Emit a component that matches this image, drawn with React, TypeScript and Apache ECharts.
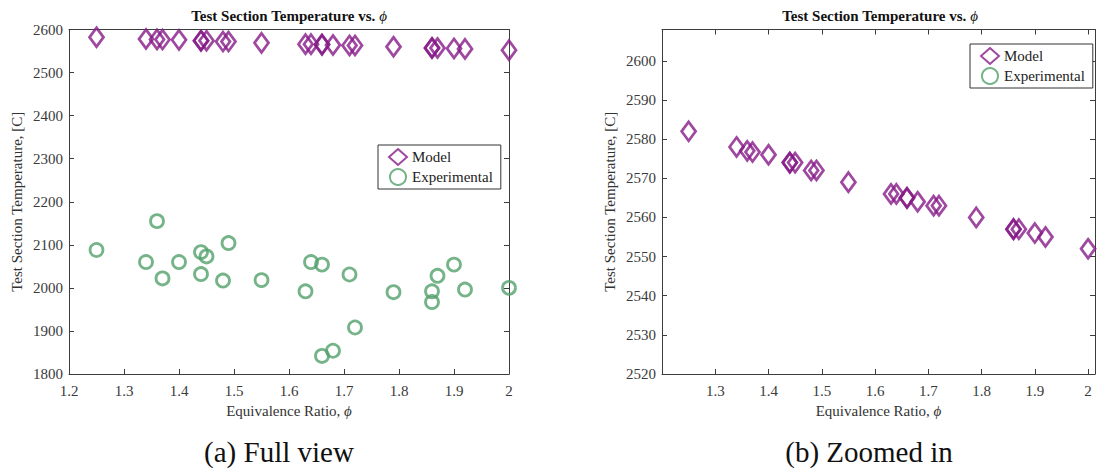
import React, { useEffect, useRef } from 'react';
import * as echarts from 'echarts';

// Equivalence ratio (x) for every test point
const phi = [1.25, 1.34, 1.36, 1.37, 1.40, 1.44, 1.44, 1.45, 1.48, 1.49, 1.55, 1.63, 1.64, 1.66, 1.66, 1.68, 1.71, 1.72, 1.79, 1.86, 1.86, 1.87, 1.90, 1.92, 2.00];
// Model test section temperature [C]
const modelTemp = [2582, 2578, 2577, 2576.7, 2576, 2574, 2574, 2574, 2572, 2572, 2569, 2566, 2566, 2565, 2565, 2564, 2563, 2563, 2560, 2557, 2557, 2557, 2556, 2555, 2552];
// Experimental test section temperature [C]
const experimentalTemp = [2088, 2060, 2155, 2022, 2060, 2083, 2032, 2073, 2017, 2104, 2018, 1992, 2060, 2054, 1842, 1854, 2031, 1908, 1990, 1992, 1967, 2028, 2054, 1996, 2000];

const seriesNames = ['Model', 'Experimental'];
const chartTitle = 'Test Section Temperature vs. {i|ϕ}';
const xName = 'Equivalence Ratio, {i|ϕ}';
const yName = 'Test Section Temperature, [C]';
const captions = ['(a) Full view', '(b) Zoomed in'];

const FONT = "'Liberation Serif', 'Times New Roman', Times, serif";
const PURPLE = '#861a88';
const GREEN = '#52a06a';
const AXIS = '#3c3c3c';
const LABEL = '#3a3a3a';

export default function App() {
  const ref = useRef<HTMLDivElement>(null);
  useEffect(() => {
    if (!ref.current) return;
    const chart = echarts.init(ref.current, undefined, { renderer: 'svg' });
    const modelData = phi.map((p, i) => [p, modelTemp[i]]);
    const expData = phi.map((p, i) => [p, experimentalTemp[i]]);

    const grids = [
      { left: 69, top: 29.5, width: 440, height: 344.5 },
      { left: 662, top: 29.5, width: 433, height: 344.5 },
    ];

    const tickIn = { show: true, inside: true, length: 5, lineStyle: { color: AXIS } };
    const lineS = { show: true, lineStyle: { color: AXIS, width: 1 } };
    const fmt = (v: number) => String(Math.round(v * 1000) / 1000);
    const labelS = { fontFamily: FONT, fontSize: 15, color: LABEL, formatter: fmt };
    const nameS = {
      fontFamily: FONT, fontSize: 15, color: '#333',
      rich: { i: { fontFamily: FONT, fontSize: 15, fontStyle: 'italic', color: '#333' } },
    };

    const xRanges = [
      { min: 1.2, max: 2.0, showMin: true },
      { min: 1.2, max: 2.013, showMin: false },
    ];
    const yRanges = [
      { min: 1800, max: 2600, interval: 100, showMax: true },
      { min: 2520, max: 2608, interval: 10, showMax: false },
    ];

    const xAxis: any[] = [];
    const yAxis: any[] = [];
    [0, 1].forEach((g) => {
      xAxis.push({
        type: 'value', gridIndex: g, position: 'bottom',
        min: xRanges[g].min, max: xRanges[g].max, interval: 0.1,
        axisLine: lineS, axisTick: tickIn, splitLine: { show: false },
        axisLabel: { ...labelS, margin: 9, showMinLabel: xRanges[g].showMin, showMaxLabel: g === 0 },
        name: xName, nameLocation: 'middle', nameGap: 29, nameTextStyle: nameS,
      });
      xAxis.push({
        type: 'value', gridIndex: g, position: 'top',
        min: xRanges[g].min, max: xRanges[g].max, interval: 0.1,
        axisLine: lineS, axisTick: g === 1 ? tickIn : { show: false },
        axisLabel: { show: false }, splitLine: { show: false },
      });
      yAxis.push({
        type: 'value', gridIndex: g, position: 'left',
        min: yRanges[g].min, max: yRanges[g].max, interval: yRanges[g].interval,
        axisLine: lineS, axisTick: tickIn, splitLine: { show: false },
        axisLabel: { ...labelS, margin: 6, showMaxLabel: yRanges[g].showMax },
        name: yName, nameLocation: 'middle', nameGap: 45, nameTextStyle: nameS,
      });
      yAxis.push({
        type: 'value', gridIndex: g, position: 'right',
        min: yRanges[g].min, max: yRanges[g].max, interval: yRanges[g].interval,
        axisLine: lineS, axisTick: tickIn, splitLine: { show: false },
        axisLabel: { show: false },
      });
    });

    const series: any[] = [];
    [0, 1].forEach((g) => {
      series.push({
        type: 'scatter', name: seriesNames[0], xAxisIndex: g * 2, yAxisIndex: g * 2,
        symbol: 'diamond', symbolSize: [14, 19], data: modelData, clip: true,
        itemStyle: { color: 'rgba(0,0,0,0)', borderColor: PURPLE, borderWidth: 2.8 },
      });
      series.push({
        type: 'scatter', name: seriesNames[1], xAxisIndex: g * 2, yAxisIndex: g * 2,
        symbol: 'circle', symbolSize: 13, data: expData, clip: true,
        itemStyle: { color: 'rgba(0,0,0,0)', borderColor: GREEN, borderWidth: 2.8 },
      });
    });

    const legendBase = {
      orient: 'vertical', data: seriesNames, selectedMode: false,
      backgroundColor: '#fff', borderColor: '#333', borderWidth: 1,
      padding: [3, 8, 3, 10], itemGap: 2, itemWidth: 18, itemHeight: 16,
      textStyle: { fontFamily: FONT, fontSize: 15, color: '#222' },
    };

    const titleText = (x: number) => ({
      type: 'text', x, y: 16,
      style: {
        text: chartTitle, fontFamily: FONT, fontSize: 15, fontWeight: 'bold', fill: '#111',
        textAlign: 'center', textVerticalAlign: 'middle',
        rich: { i: { fontFamily: FONT, fontSize: 15, fontStyle: 'italic', fontWeight: 'normal', fill: '#111' } },
      },
    });
    const captionText = (x: number, t: string) => ({
      type: 'text', x, y: 452,
      style: {
        text: t, fontFamily: FONT, fontSize: 29, fill: '#111',
        textAlign: 'center', textVerticalAlign: 'middle',
      },
    });

    chart.setOption({
      animation: false,
      backgroundColor: '#fff',
      grid: grids,
      xAxis, yAxis, series,
      legend: [
        { ...legendBase, left: 378, top: 145 },
        { ...legendBase, left: 970, top: 44 },
      ],
      graphic: [
        titleText(289), titleText(880),
        captionText(279, captions[0]), captionText(869, captions[1]),
      ],
    });
    return () => chart.dispose();
  }, []);
  return <div ref={ref} style={{ position: 'fixed', left: 0, top: 0, width: 1097, height: 472, background: '#fff' }} />;
}
